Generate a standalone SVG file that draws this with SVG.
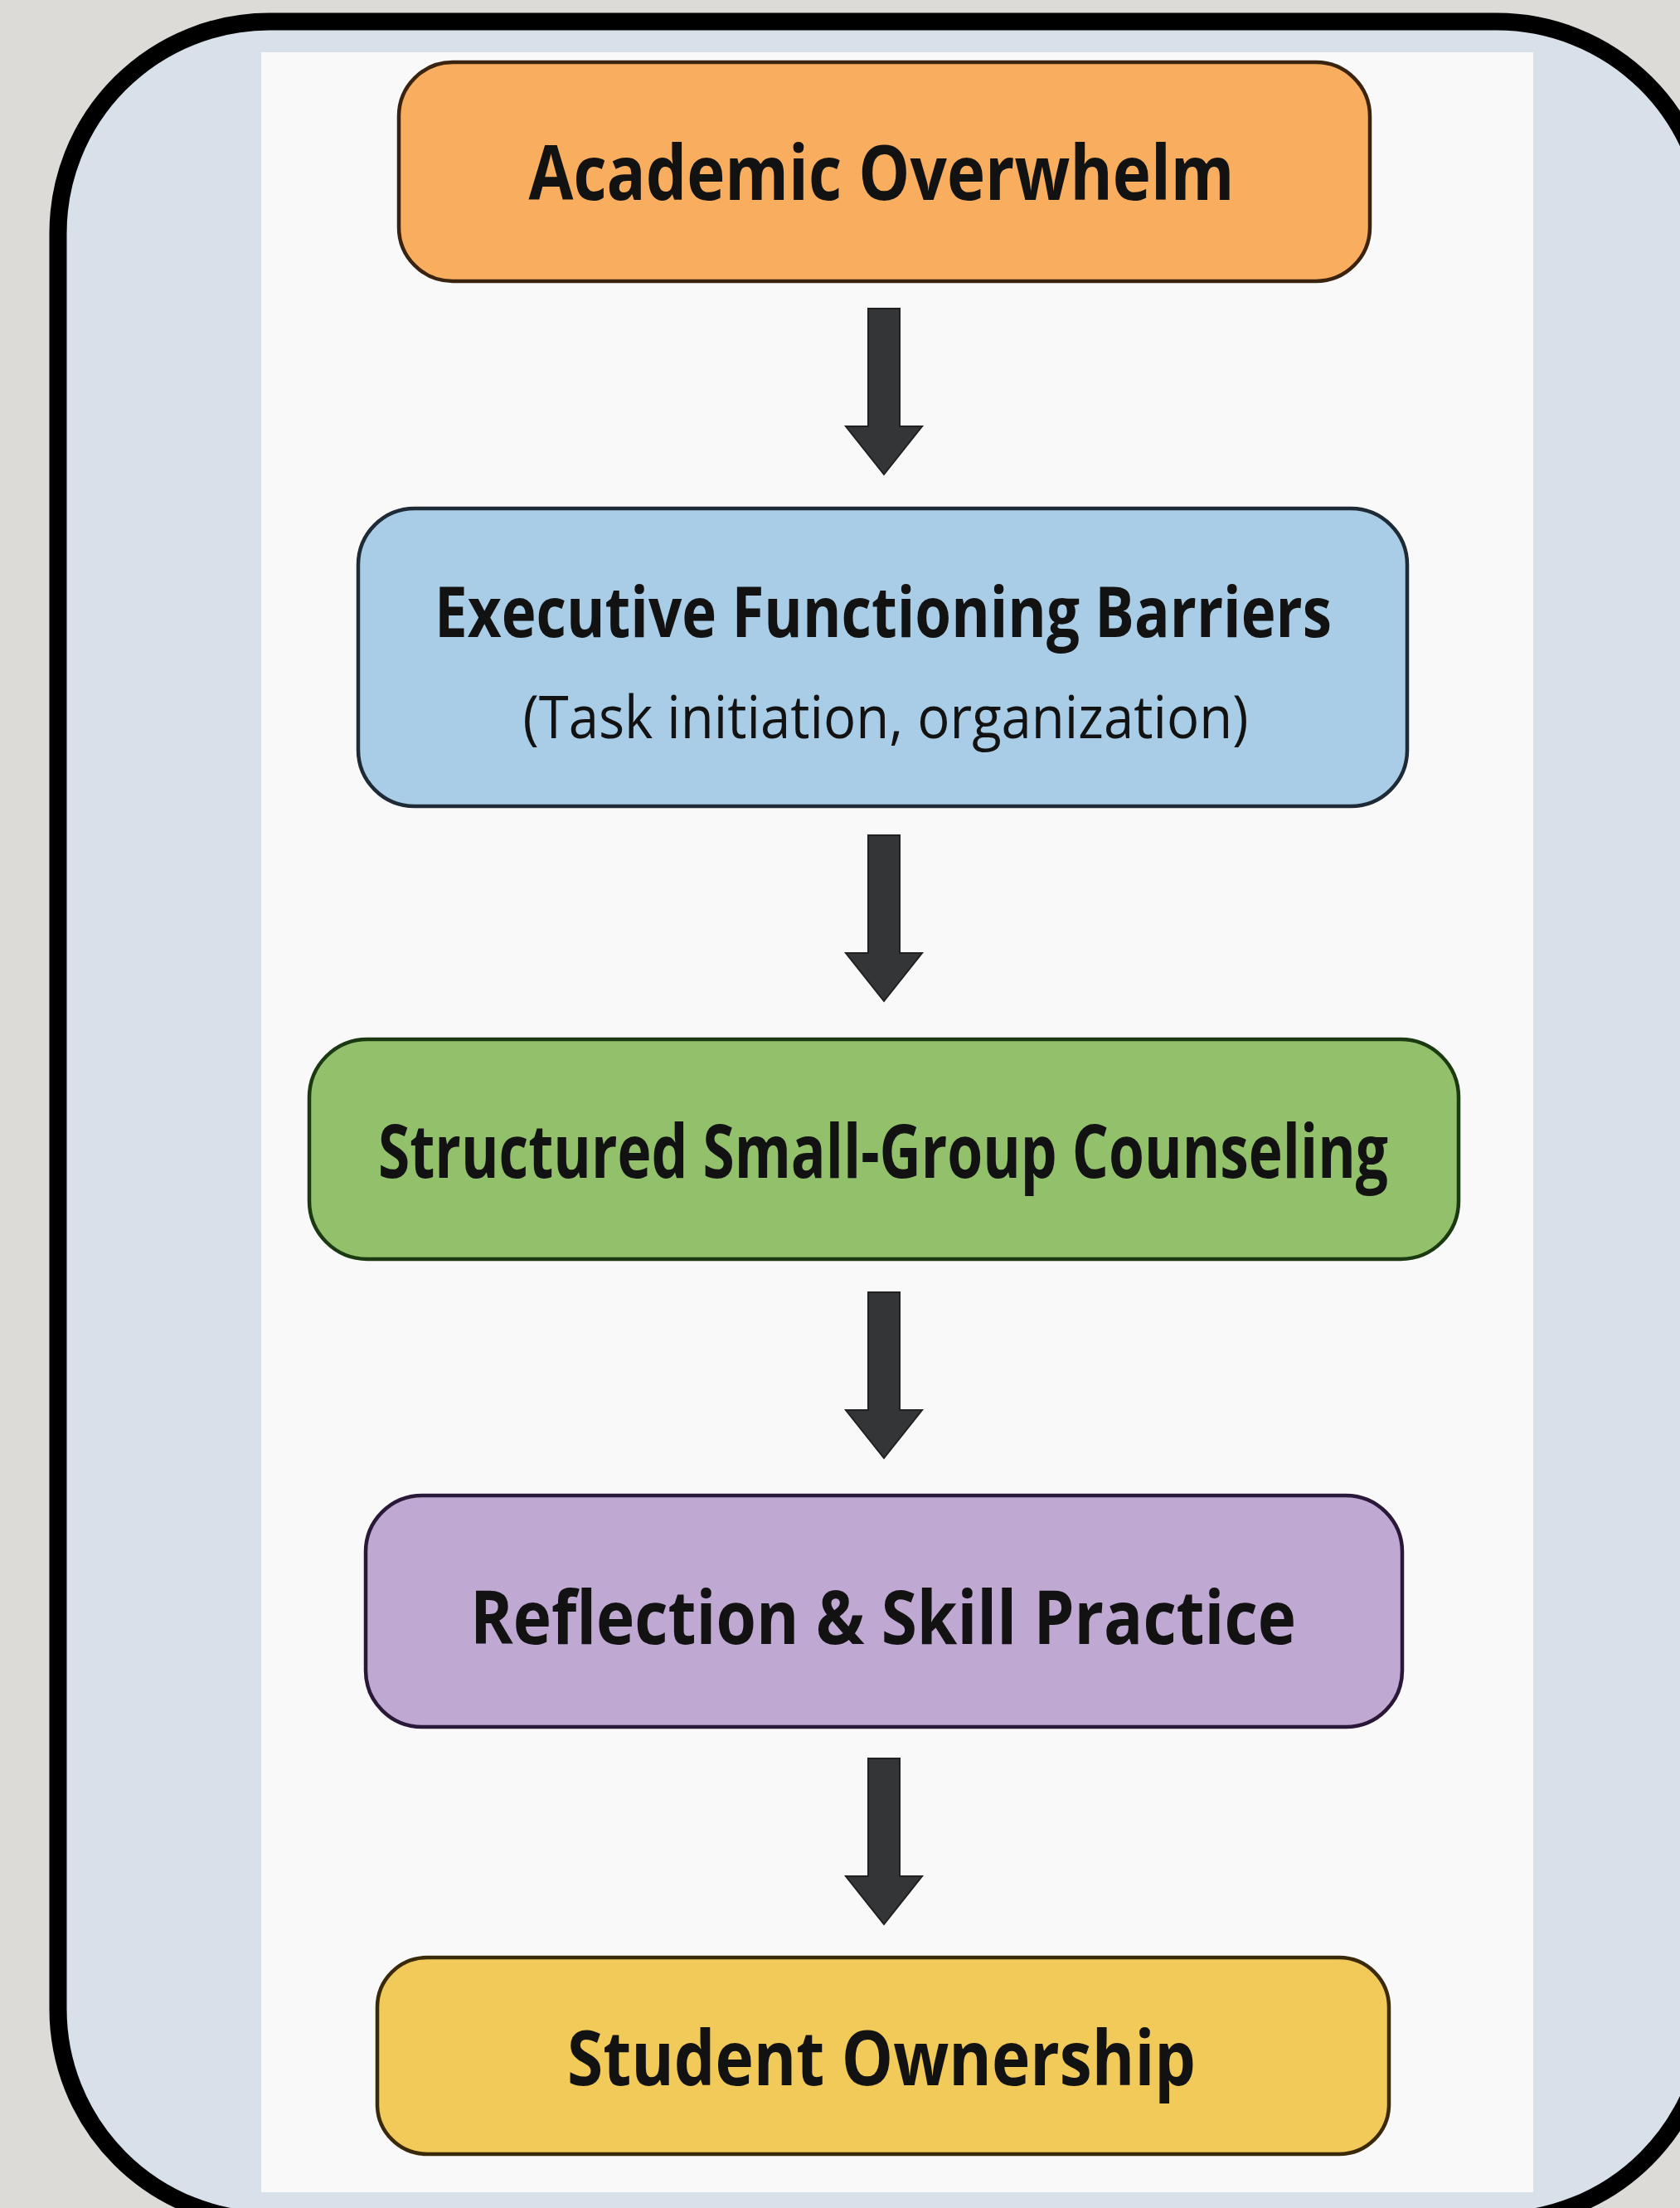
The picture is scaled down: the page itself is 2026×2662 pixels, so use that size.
<svg xmlns="http://www.w3.org/2000/svg" xmlns:xlink="http://www.w3.org/1999/xlink" width="2026" height="2662" viewBox="0 0 2026 2662">
  <style>
    .node { stroke-width: 4.5; }
    .title { font-family: "Open Sans", "Noto Sans", "Liberation Sans", sans-serif; font-weight: 700; fill: #121212; text-anchor: middle; }
    .sub { font-family: "Open Sans", "Noto Sans", "Liberation Sans", sans-serif; font-weight: 400; fill: #121212; text-anchor: middle; }
    .arrow { fill: #333536; stroke: #1f2021; stroke-width: 2; stroke-linejoin: miter; }
  </style>
  <defs>
    <path id="arrowShape" d="M-19,0 H19 V142 H46 L0,200 L-46,142 H-19 Z"/>
  </defs>

  <rect x="0" y="0" width="2026" height="2662" fill="#dcdbd7"/>
  <rect id="frame" x="70" y="26" width="1990" height="2651" rx="255" ry="255" fill="#d8e0ea" stroke="#000000" stroke-width="21"/>
  <rect id="panel" x="315" y="63" width="1534" height="2580" fill="#f9f9f9"/>

  <g id="node-academic-overwhelm">
    <rect class="node" x="481" y="75" width="1171" height="264" rx="65" ry="65" fill="#f9ae5f" stroke="#3a2410"/>
    <text class="title" x="1063" y="241" font-size="92" textLength="851" lengthAdjust="spacingAndGlyphs">Academic Overwhelm</text>
  </g>

  <g id="node-executive-functioning">
    <rect class="node" x="432" y="613" width="1265" height="359" rx="68" ry="68" fill="#a9cde6" stroke="#1e2a35"/>
    <text class="title" x="1065" y="768" font-size="84" textLength="1082" lengthAdjust="spacingAndGlyphs">Executive Functioning Barriers</text>
    <text class="sub" x="1068" y="890" font-size="72" textLength="875" lengthAdjust="spacingAndGlyphs">(Task initiation, organization)</text>
  </g>

  <g id="node-small-group">
    <rect class="node" x="373" y="1253" width="1386" height="265" rx="70" ry="70" fill="#92c06b" stroke="#1c3a12"/>
    <text class="title" x="1065" y="1420" font-size="90" textLength="1218" lengthAdjust="spacingAndGlyphs">Structured Small-Group Counseling</text>
  </g>

  <g id="node-reflection">
    <rect class="node" x="441" y="1803" width="1250" height="279" rx="68" ry="68" fill="#bfa8d2" stroke="#2a1838"/>
    <text class="title" x="1065" y="1982" font-size="90" textLength="996" lengthAdjust="spacingAndGlyphs">Reflection &amp; Skill Practice</text>
  </g>

  <g id="node-student-ownership">
    <rect class="node" x="455" y="2360" width="1220" height="237" rx="60" ry="60" fill="#f2ca5a" stroke="#3a2a0a"/>
    <text class="title" x="1063" y="2514" font-size="92" textLength="758" lengthAdjust="spacingAndGlyphs">Student Ownership</text>
  </g>

  <g id="connectors">
    <use class="arrow" xlink:href="#arrowShape" href="#arrowShape" transform="translate(1066,372)"/>
    <use class="arrow" xlink:href="#arrowShape" href="#arrowShape" transform="translate(1066,1007)"/>
    <use class="arrow" xlink:href="#arrowShape" href="#arrowShape" transform="translate(1066,1558)"/>
    <use class="arrow" xlink:href="#arrowShape" href="#arrowShape" transform="translate(1066,2120)"/>
  </g>
</svg>
